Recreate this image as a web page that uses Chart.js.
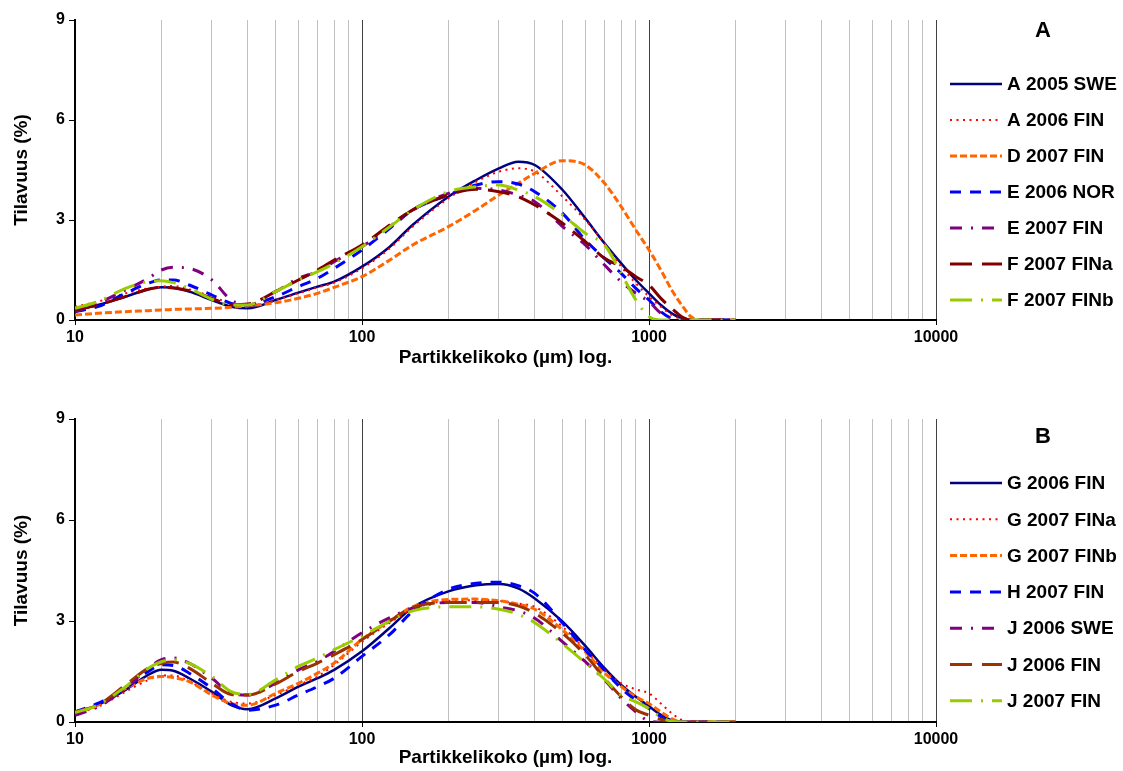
<!DOCTYPE html>
<html>
<head>
<meta charset="utf-8">
<script src="https://cdn.jsdelivr.net/npm/chart.js@4.4.1/dist/chart.umd.min.js"></script>
<style>
  body { margin: 0; background: #fff; }
  #wrap { position: relative; width: 1123px; height: 771px; }
  canvas { position: absolute; left: 0; }
</style>
</head>
<body>
<div id="wrap">
  <canvas id="chartA" width="1123" height="385" style="top:0"></canvas>
  <canvas id="chartB" width="1123" height="371" style="top:400px"></canvas>
</div>
<script>
// particle sizes (µm) where the curves were read
const sizes = [10, 12, 15, 18, 20, 22, 25, 30, 35, 40, 50, 60, 70, 80, 100, 125, 150, 200, 250, 300,
  350, 400, 500, 600, 700, 800, 900, 1000, 1100, 1200, 1300, 1400, 1500, 2000];
const xTickLabels = [10, 100, 1000, 10000];
const yTickLabels = [0, 3, 6, 9];

// panel A
const namesA = ['A 2005 SWE', 'A 2006 FIN', 'D 2007 FIN', 'E 2006 NOR', 'E 2007 FIN', 'F 2007 FINa', 'F 2007 FINb'];
const a2005swe = [0.3, 0.45, 0.7, 0.92, 0.98, 0.97, 0.85, 0.6, 0.4, 0.35, 0.6, 0.82, 1.0, 1.15, 1.6, 2.2, 2.85, 3.7, 4.2, 4.55,
  4.75, 4.65, 3.9, 3.05, 2.3, 1.7, 1.2, 0.8, 0.45, 0.2, 0.05, 0, 0, 0];
const a2006fin = [0.4, 0.55, 0.8, 0.95, 1.0, 1.02, 0.92, 0.7, 0.5, 0.42, 0.6, 0.8, 0.98, 1.12, 1.55, 2.15, 2.8, 3.65, 4.15, 4.45,
  4.55, 4.45, 3.7, 3.0, 2.3, 1.6, 1.1, 0.7, 0.4, 0.15, 0.03, 0, 0, 0];
const d2007fin = [0.15, 0.2, 0.25, 0.28, 0.3, 0.32, 0.33, 0.35, 0.38, 0.42, 0.52, 0.65, 0.8, 0.98, 1.3, 1.8, 2.25, 2.8, 3.3, 3.75,
  4.1, 4.4, 4.78, 4.65, 4.1, 3.4, 2.7, 2.1, 1.5, 0.9, 0.45, 0.1, 0, 0];
const e2006nor = [0.25, 0.4, 0.8, 1.1, 1.2, 1.2, 1.05, 0.75, 0.5, 0.45, 0.7, 1.0, 1.25, 1.55, 2.1, 2.75, 3.3, 3.75, 4.05, 4.15,
  4.08, 3.85, 3.2, 2.4, 1.85, 1.4, 0.95, 0.6, 0.25, 0.05, 0, 0, 0, 0];
const e2007fin = [0.25, 0.5, 0.9, 1.25, 1.5, 1.58, 1.55, 1.2, 0.6, 0.45, 0.85, 1.25, 1.45, 1.75, 2.2, 2.8, 3.3, 3.8, 3.95, 3.9,
  3.75, 3.55, 2.8, 2.25, 1.65, 1.15, 0.8, 0.55, 0.2, 0.03, 0, 0, 0, 0];
const f2007fina = [0.3, 0.45, 0.7, 0.92, 0.98, 0.96, 0.88, 0.65, 0.46, 0.48, 0.85, 1.2, 1.5, 1.8, 2.25, 2.85, 3.3, 3.75, 3.92, 3.85,
  3.7, 3.45, 2.9, 2.35, 1.85, 1.6, 1.3, 1.05, 0.65, 0.35, 0.1, 0, 0, 0];
const f2007finb = [0.35, 0.55, 0.95, 1.15, 1.18, 1.12, 0.95, 0.62, 0.45, 0.45, 0.85, 1.2, 1.45, 1.7, 2.2, 2.8, 3.3, 3.85, 4.0, 4.05,
  3.9, 3.7, 3.15, 2.6, 2.25, 1.4, 0.6, 0.1, 0, 0, 0, 0, 0, 0];

// panel B
const namesB = ['G 2006 FIN', 'G 2007 FINa', 'G 2007 FINb', 'H 2007 FIN', 'J 2006 SWE', 'J 2006 FIN', 'J 2007 FIN'];
const g2006fin = [0.26, 0.5, 0.95, 1.4, 1.55, 1.52, 1.3, 0.9, 0.5, 0.38, 0.7, 1.05, 1.3, 1.55, 2.1, 2.8, 3.4, 3.88, 4.06, 4.1,
  3.97, 3.67, 2.98, 2.26, 1.6, 1.1, 0.75, 0.47, 0.21, 0.05, 0, 0, 0, 0];
const g2007fina = [0.25, 0.45, 0.9, 1.25, 1.38, 1.38, 1.2, 0.85, 0.6, 0.55, 0.8, 1.1, 1.35, 1.7, 2.38, 2.95, 3.35, 3.6, 3.62, 3.6,
  3.52, 3.42, 2.83, 2.14, 1.54, 1.15, 0.97, 0.85, 0.55, 0.26, 0.06, 0, 0, 0];
const g2007finb = [0.3, 0.5, 1.0, 1.3, 1.35, 1.32, 1.2, 0.8, 0.55, 0.5, 0.85, 1.15, 1.45, 1.75, 2.45, 3.0, 3.42, 3.64, 3.65, 3.6,
  3.5, 3.35, 2.73, 2.09, 1.46, 1.05, 0.75, 0.55, 0.3, 0.1, 0, 0, 0, 0];
const h2007fin = [0.3, 0.55, 1.0, 1.5, 1.7, 1.68, 1.45, 1.0, 0.55, 0.35, 0.5, 0.8, 1.05, 1.3, 1.95, 2.6, 3.28, 3.94, 4.12, 4.15,
  4.05, 3.82, 2.94, 2.14, 1.54, 1.0, 0.65, 0.4, 0.16, 0.03, 0, 0, 0, 0];
const j2006swe = [0.2, 0.45, 1.0, 1.6, 1.85, 1.9, 1.75, 1.3, 0.85, 0.8, 1.15, 1.55, 1.8, 2.1, 2.65, 3.1, 3.38, 3.55, 3.55, 3.42,
  3.3, 3.08, 2.38, 1.79, 1.25, 0.7, 0.3, 0.03, 0, 0, 0, 0, 0, 0];
const j2006fin = [0.3, 0.5, 1.1, 1.6, 1.74, 1.78, 1.6, 1.15, 0.82, 0.8, 1.13, 1.5, 1.75, 2.0, 2.45, 3.0, 3.4, 3.55, 3.55, 3.55,
  3.45, 3.23, 2.63, 1.99, 1.3, 0.75, 0.36, 0.2, 0.08, 0, 0, 0, 0, 0];
const j2007fin = [0.28, 0.5, 1.05, 1.6, 1.79, 1.85, 1.74, 1.35, 0.9, 0.82, 1.25, 1.65, 1.9, 2.15, 2.55, 3.0, 3.3, 3.42, 3.42, 3.35,
  3.2, 2.95, 2.32, 1.76, 1.27, 0.8, 0.6, 0.4, 0.15, 0.02, 0, 0, 0, 0];

const colorsA = ['#000080', '#ff0000', '#ff6600', '#0000ff', '#800080', '#800000', '#99cc00'];
const colorsB = ['#000080', '#ff0000', '#ff6600', '#0000ff', '#800080', '#993300', '#99cc00'];
const dashes = [[], [2, 4.5], [7, 3], [11, 9], [12, 9, 2, 9], [22, 10], [22, 9, 2, 9]];
const widths = [2.5, 2, 3, 3, 3, 3, 3];

const FONT = '"Liberation Sans", Arial, Helvetica, sans-serif';

// vertical grid lines at every 1..9 x 10^n
const gridValues = [];
for (let e = 1; e <= 3; e++) {
  for (let m = 1; m <= 9; m++) gridValues.push(m * Math.pow(10, e));
}
gridValues.push(10000);

const sideLegend = {
  id: 'sideLegend',
  afterDraw(chart, args, opts) {
    const ctx = chart.ctx;
    ctx.save();
    ctx.fillStyle = '#000';
    ctx.textBaseline = 'middle';
    ctx.textAlign = 'center';
    ctx.font = 'bold 22px ' + FONT;
    ctx.fillText(opts.title, 1043, opts.titleY);
    ctx.textAlign = 'left';
    ctx.font = 'bold 19px ' + FONT;
    chart.data.datasets.forEach((ds, i) => {
      const y = opts.rowY + i * opts.rowGap;
      ctx.beginPath();
      ctx.setLineDash(ds.borderDash);
      ctx.lineWidth = ds.borderWidth;
      ctx.strokeStyle = ds.borderColor;
      ctx.moveTo(950, y);
      ctx.lineTo(1002, y);
      ctx.stroke();
      ctx.setLineDash([]);
      ctx.fillText(ds.label, 1007, y + 1);
    });
    ctx.restore();
  },
};

function makeChart(id, names, series, colors, cfg) {
  const datasets = series.map((vals, i) => ({
    label: names[i],
    data: sizes.map((s, k) => ({ x: s, y: vals[k] })),
    borderColor: colors[i],
    borderWidth: widths[i],
    borderDash: dashes[i],
    pointRadius: 0,
    fill: false,
    cubicInterpolationMode: 'monotone',
    order: -i,
  }));
  const isMajor = v => xTickLabels.includes(v);
  return new Chart(document.getElementById(id), {
    type: 'line',
    data: { datasets },
    options: {
      responsive: false,
      animation: false,
      devicePixelRatio: 1,
      events: [],
      layout: { padding: { top: cfg.padTop, right: 187, left: 0, bottom: 0 } },
      plugins: {
        legend: { display: false },
        tooltip: { enabled: false },
        sideLegend: { title: cfg.title, titleY: cfg.titleY, rowY: cfg.rowY, rowGap: cfg.rowGap },
      },
      scales: {
        x: {
          type: 'logarithmic',
          min: 10,
          max: 10000,
          afterBuildTicks(scale) {
            scale.ticks = gridValues.map(v => ({ value: v, major: isMajor(v) }));
          },
          afterFit(scale) { scale.height = cfg.axisH; },
          ticks: {
            autoSkip: false,
            maxRotation: 0,
            minRotation: 0,
            padding: 3,
            color: '#000',
            font: { family: FONT, size: 16, weight: 'bold' },
            callback: v => (isMajor(v) ? String(v) : ''),
          },
          grid: {
            color: c => (isMajor(c.tick.value) ? '#404040' : '#c0c0c0'),
            lineWidth: 1,
            tickLength: 5,
            tickColor: c => (isMajor(c.tick.value) ? '#000' : 'rgba(0,0,0,0)'),
          },
          border: { color: '#000', width: 2 },
          title: {
            display: true,
            text: 'Partikkelikoko (µm) log.',
            color: '#000',
            font: { family: FONT, size: 19, weight: 'bold' },
            padding: { top: 0, bottom: cfg.titlePad },
          },
        },
        y: {
          min: 0,
          max: 9,
          afterBuildTicks(scale) {
            scale.ticks = yTickLabels.map(v => ({ value: v }));
          },
          afterFit(scale) { scale.width = 75; },
          ticks: {
            padding: 4,
            color: '#000',
            font: { family: FONT, size: 16, weight: 'bold' },
          },
          grid: { drawOnChartArea: false, tickLength: 6, tickColor: '#000' },
          border: { color: '#000', width: 2 },
          title: {
            display: true,
            text: 'Tilavuus (%)',
            color: '#000',
            font: { family: FONT, size: 19, weight: 'bold' },
            padding: { top: 10, bottom: 0 },
          },
        },
      },
    },
    plugins: [sideLegend],
  });
}

makeChart('chartA', namesA,
  [a2005swe, a2006fin, d2007fin, e2006nor, e2007fin, f2007fina, f2007finb], colorsA,
  { padTop: 20, axisH: 65, titlePad: 16, title: 'A', titleY: 31, rowY: 84, rowGap: 36 });

makeChart('chartB', namesB,
  [g2006fin, g2007fina, g2007finb, h2007fin, j2006swe, j2006fin, j2007fin], colorsB,
  { padTop: 19, axisH: 49, titlePad: 1.5, title: 'B', titleY: 37, rowY: 83, rowGap: 36.3 });
</script>
</body>
</html>
